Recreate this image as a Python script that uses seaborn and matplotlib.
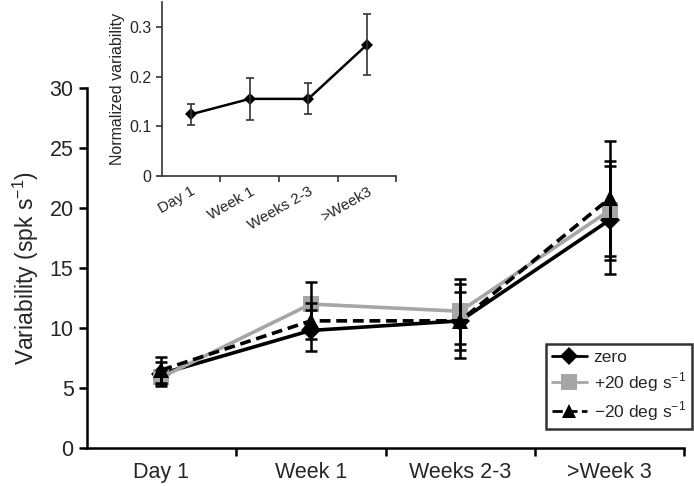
import numpy as np
import pandas as pd
import seaborn as sns
import matplotlib.pyplot as plt
from matplotlib.lines import Line2D

# main panel data
stages = ["Day 1", "Week 1", "Weeks 2-3", ">Week 3"]
zero_mean = [6.2, 9.8, 10.6, 19.0]
zero_sd = [1.0, 1.7, 2.4, 4.5]
pos_mean = [5.9, 12.0, 11.4, 19.8]
pos_sd = [0.6, 1.8, 2.7, 4.1]
neg_mean = [6.5, 10.6, 10.6, 20.8]
neg_sd = [1.1, 1.5, 3.1, 4.8]

# inset data
inset_stages = ["Day 1", "Week 1", "Weeks 2-3", ">Week3"]
inset_mean = [0.124, 0.155, 0.155, 0.264]
inset_err = [0.021, 0.042, 0.031, 0.061]

labels = ["zero", "+20 deg s$^{-1}$", "\u221220 deg s$^{-1}$"]
colors = ["black", "#a6a6a6", "black"]
markers = ["D", "s", "^"]
dashes = ["", "", (3, 1.6)]
msizes = [10, 12, 11]

sns.set_theme(style="ticks")
plt.rcParams['font.family'] = ['Liberation Sans', 'DejaVu Sans']
plt.rcParams['mathtext.fontset'] = 'custom'
plt.rcParams['mathtext.rm'] = 'Liberation Sans'

df = pd.DataFrame({
    "x": list(range(4)) * 3,
    "value": zero_mean + pos_mean + neg_mean,
    "sd": zero_sd + pos_sd + neg_sd,
    "cond": [labels[0]] * 4 + [labels[1]] * 4 + [labels[2]] * 4,
})

fig = plt.figure(figsize=(6.94, 4.86), dpi=100)
ax = fig.add_axes([0.125, 0.078, 0.861, 0.741])

for i, lab in enumerate(labels):
    sub = df[df["cond"] == lab]
    sns.lineplot(data=sub, x="x", y="value", ax=ax, color=colors[i],
                 lw=2.6, marker=markers[i], markersize=msizes[i],
                 markeredgewidth=0, dashes=False, zorder=2 + i)
    if dashes[i]:
        ax.lines[-1].set_dashes(dashes[i])
    ax.errorbar(sub["x"], sub["value"], yerr=sub["sd"], fmt="none",
                ecolor="black", elinewidth=1.8, capsize=4.5, capthick=1.8, zorder=6)

ax.set_xlim(-0.5, 3.5)
ax.set_ylim(0, 30)
ax.set_yticks([0, 5, 10, 15, 20, 25, 30])
ax.set_xticks(range(4))
ax.set_xticklabels(stages)
ax.set_xticks([0.5, 1.5, 2.5, 3.5], minor=True)
ax.tick_params(axis="x", which="major", length=0, labelsize=15.5, pad=10)
ax.tick_params(axis="x", which="minor", length=6, width=1.8, color="black")
ax.tick_params(axis="y", length=6, width=1.8, labelsize=15.5, color="black")
ax.set_xlabel("")
ax.set_ylabel("Variability (spk s$^{-1}$)", fontsize=16.5, labelpad=6)
for s in ["left", "bottom"]:
    ax.spines[s].set_linewidth(1.8)
    ax.spines[s].set_color("black")
sns.despine(ax=ax)

handles = [Line2D([], [], color=colors[i], lw=2, marker=markers[i],
                  markersize=msizes[i] - 1, markeredgewidth=0,
                  linestyle="--" if dashes[i] else "-") for i in range(3)]
leg = ax.legend(handles, labels, loc="lower right", bbox_to_anchor=(1.013, 0.053),
                fontsize=12.5, frameon=True, fancybox=False, handlelength=2.0,
                borderpad=0.35, labelspacing=0.3, handletextpad=0.4,
                borderaxespad=0)
leg.get_frame().set_edgecolor("black")
leg.get_frame().set_linewidth(1.8)

# inset
axi = fig.add_axes([0.233, 0.638, 0.338, 0.358])
inset_df = pd.DataFrame({"x": range(4), "value": inset_mean})
sns.lineplot(data=inset_df, x="x", y="value", ax=axi, color="black", lw=1.8,
             marker="D", markersize=6, markeredgewidth=0)
axi.errorbar(range(4), inset_mean, yerr=inset_err, fmt="none", ecolor="#333333",
             elinewidth=1.2, capsize=3, capthick=1.2)
axi.set_xlim(-0.5, 3.5)
axi.set_ylim(0, 0.35)
axi.set_yticks([0, 0.1, 0.2, 0.3])
axi.set_yticklabels(["0", "0.1", "0.2", "0.3"])
axi.set_xticks(range(4))
axi.set_xticklabels(inset_stages, rotation=30, ha="right", rotation_mode="anchor")
axi.set_xticks([0.5, 1.5, 2.5, 3.5], minor=True)
axi.tick_params(axis="x", which="major", length=0, labelsize=11, pad=6)
axi.tick_params(axis="x", which="minor", length=4, width=1.2, color="#333333")
axi.tick_params(axis="y", length=4, width=1.2, labelsize=11.5, color="#333333")
axi.set_xlabel("")
axi.set_ylabel("Normalized variability", fontsize=11.5, labelpad=3)
for s in ["left", "bottom"]:
    axi.spines[s].set_linewidth(1.2)
    axi.spines[s].set_color("#333333")
sns.despine(ax=axi)

fig.savefig("out.png", dpi=100)
